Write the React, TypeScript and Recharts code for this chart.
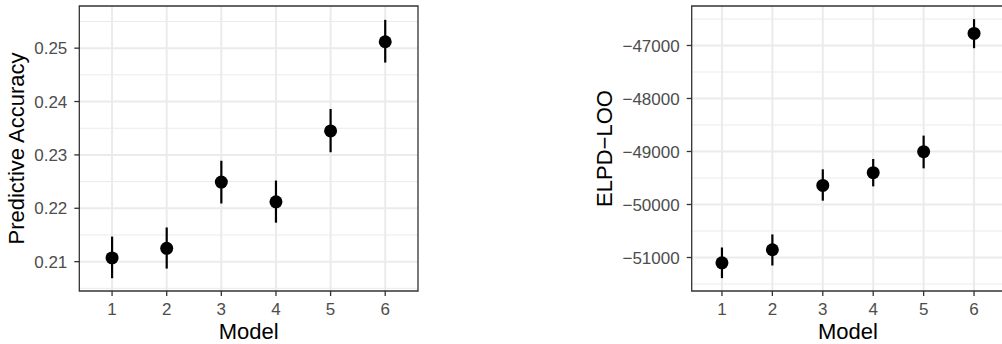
import React from "react";
import {
  ScatterChart,
  Scatter,
  XAxis,
  YAxis,
  CartesianGrid,
  ErrorBar,
  ReferenceArea,
  Label,
} from "recharts";

const models = [1, 2, 3, 4, 5, 6];

const accuracy = [0.2107, 0.2125, 0.2249, 0.2212, 0.2345, 0.2512];
const accuracyLow = [0.2069, 0.2087, 0.2209, 0.2173, 0.2305, 0.2473];
const accuracyHigh = [0.2147, 0.2164, 0.2289, 0.2252, 0.2386, 0.2553];

const elpd = [-51100, -50854, -49640, -49400, -49003, -46773];
const elpdLow = [-51389, -51151, -49928, -49658, -49318, -47051];
const elpdHigh = [-50811, -50565, -49336, -49141, -48700, -46503];

const accTicks = [0.21, 0.22, 0.23, 0.24, 0.25];
const accMinor = [0.205, 0.215, 0.225, 0.235, 0.245, 0.255];
const elpdTicks = [-51000, -50000, -49000, -48000, -47000];
const elpdMinor = [-51500, -50500, -49500, -48500, -47500, -46500];

const FONT = "'Liberation Sans', Arial, Helvetica, sans-serif";
const GRID = "#EBEBEB";
const TICK_TEXT = "#4D4D4D";
const DARK = "#333333";

const xDomain: [number, number] = [0.4, 6.6];

const buildRows = (y: number[], lo: number[], hi: number[]) =>
  models.map((m, i) => ({
    model: m,
    value: y[i],
    err: [y[i] - lo[i], hi[i] - y[i]],
  }));

const Dot = (props: any) => {
  const { cx, cy } = props;
  if (cx == null || cy == null) return null;
  return <circle cx={cx} cy={cy} r={6.5} fill="#000" />;
};

type PanelProps = {
  rows: { model: number; value: number; err: number[] }[];
  yDomain: [number, number];
  yTicks: number[];
  yMinor: number[];
  yFormat: (v: number) => string;
  yTitle: string;
  yAxisWidth: number;
  titleX: number;
  width: number;
  rightMargin: number;
};

function Panel({
  rows,
  yDomain,
  yTicks,
  yMinor,
  yFormat,
  yTitle,
  yAxisWidth,
  titleX,
  width,
  rightMargin,
}: PanelProps) {
  return (
    <ScatterChart
      width={width}
      height={344}
      margin={{ top: 6, right: rightMargin, bottom: 0, left: 0 }}
    >
      <CartesianGrid
        horizontalValues={yMinor}
        vertical={false}
        stroke={GRID}
        strokeWidth={1}
      />
      <CartesianGrid
        horizontalValues={yTicks}
        verticalValues={models}
        stroke={GRID}
        strokeWidth={2}
      />
      <XAxis
        type="number"
        dataKey="model"
        domain={xDomain}
        ticks={models}
        allowDataOverflow
        height={53}
        axisLine={false}
        tickSize={5}
        tickMargin={7}
        tickLine={{ stroke: DARK, strokeWidth: 1.3 }}
        tick={{ fill: TICK_TEXT, fontSize: 17, fontFamily: FONT }}
      >
        <Label
          content={(p: any) => {
            const vb = p.viewBox;
            return (
              <text
                x={vb.x + vb.width / 2}
                y={vb.y + 48}
                textAnchor="middle"
                fontSize={22}
                fontFamily={FONT}
                fill="#000"
              >
                Model
              </text>
            );
          }}
        />
      </XAxis>
      <YAxis
        type="number"
        dataKey="value"
        domain={yDomain}
        ticks={yTicks}
        allowDataOverflow
        width={yAxisWidth}
        axisLine={false}
        tickSize={5}
        tickMargin={7}
        tickFormatter={yFormat}
        tickLine={{ stroke: DARK, strokeWidth: 1.3 }}
        tick={{ fill: TICK_TEXT, fontSize: 17, fontFamily: FONT }}
      >
        <Label
          content={(p: any) => {
            const vb = p.viewBox;
            const cy = vb.y + vb.height / 2;
            return (
              <text
                x={titleX}
                y={cy}
                transform={`rotate(-90, ${titleX}, ${cy})`}
                textAnchor="middle"
                fontSize={22}
                fontFamily={FONT}
                fill="#000"
              >
                {yTitle}
              </text>
            );
          }}
        />
      </YAxis>
      <Scatter data={rows} shape={<Dot />} isAnimationActive={false}>
        <ErrorBar
          dataKey="err"
          direction="y"
          width={0}
          stroke="#000"
          strokeWidth={2.2}
          isAnimationActive={false}
        />
      </Scatter>
      <ReferenceArea
        x1={xDomain[0]}
        x2={xDomain[1]}
        y1={yDomain[0]}
        y2={yDomain[1]}
        fill="none"
        fillOpacity={0}
        stroke={DARK}
        strokeWidth={1.3}
        ifOverflow="visible"
      />
    </ScatterChart>
  );
}

export default function App() {
  const accRows = buildRows(accuracy, accuracyLow, accuracyHigh);
  const elpdRows = buildRows(elpd, elpdLow, elpdHigh);
  return (
    <div
      style={{
        position: "absolute",
        left: 0,
        top: 0,
        width: 1002,
        height: 344,
        overflow: "hidden",
        background: "#fff",
        fontFamily: FONT,
      }}
    >
      <div style={{ position: "absolute", left: 0, top: 0 }}>
        <Panel
          rows={accRows}
          yDomain={[0.2045, 0.2579]}
          yTicks={accTicks}
          yMinor={accMinor}
          yFormat={(v) => v.toFixed(2)}
          yTitle="Predictive Accuracy"
          yAxisWidth={79.3}
          titleX={24}
          width={430}
          rightMargin={12}
        />
      </div>
      <div style={{ position: "absolute", left: 560, top: 0 }}>
        <Panel
          rows={elpdRows}
          yDomain={[-51632, -46255]}
          yTicks={elpdTicks}
          yMinor={elpdMinor}
          yFormat={(v) => (v < 0 ? "\u2212" + Math.abs(v) : String(v))}
          yTitle={"ELPD\u2212LOO"}
          yAxisWidth={131.7}
          titleX={52}
          width={460}
          rightMargin={15.7}
        />
      </div>
    </div>
  );
}
